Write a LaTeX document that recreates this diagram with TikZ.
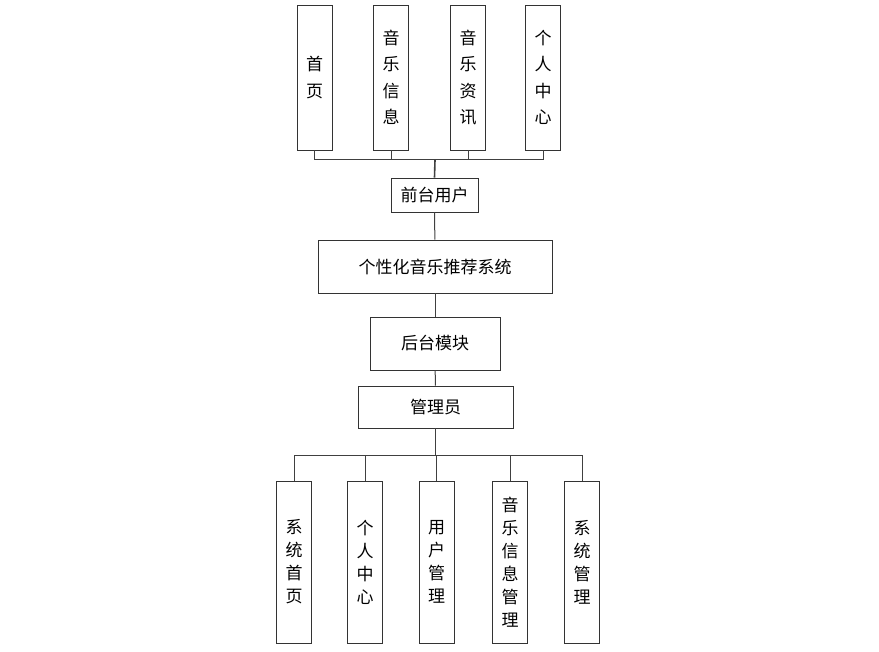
\documentclass[tikz,border=0pt]{standalone}
\usepackage{fontspec}
\newfontfamily\cjk{Noto Sans CJK SC}
\usetikzlibrary{positioning}
\tikzset{
  box/.style={draw=black!80, line width=0.9pt, align=center, inner sep=2pt, font=\cjk\fontsize{17}{24}\selectfont},
  tallbox/.style={box, minimum width=35pt, text width=18pt},
  topbox/.style={tallbox, minimum height=145pt, font=\cjk\fontsize{17}{26.5}\selectfont},
  botbox/.style={tallbox, minimum height=162pt, font=\cjk\fontsize{17}{23}\selectfont},
  wide/.style={box, minimum height=33pt},
  link/.style={draw=black!75, line width=1pt}
}
\begin{document}
\begin{tikzpicture}[x=1pt,y=-1pt]
  \useasboundingbox (0,0) rectangle (879,652);
  % ---- front-end modules (top) ----
  \node[topbox] (home) at (314.5,77.5) {首\\页};
  \node[topbox] (musicinfo) at (391,77.5) {音\\乐\\信\\息};
  \node[topbox] (news) at (468,77.5) {音\\乐\\资\\讯};
  \node[topbox] (center) at (543,77.5) {个\\人\\中\\心};

  % ---- main chain ----
  \node[wide, minimum width=87pt, minimum height=34pt] (front) at (434.5,195) {前台用户};
  \node[wide, minimum width=234pt, minimum height=53pt] (system) at (435,266.5) {个性化音乐推荐系统};
  \node[wide, minimum width=130pt, minimum height=53pt] (backend) at (435,343.5) {后台模块};
  \node[wide, minimum width=155pt, minimum height=42pt] (admin) at (435.5,407) {管理员};

  % ---- admin modules (bottom) ----
  \node[botbox] (syshome) at (294,562) {系\\统\\首\\页};
  \node[botbox] (mycenter) at (365,562) {个\\人\\中\\心};
  \node[botbox] (usermgr) at (436.5,562) {用\\户\\管\\理};
  \node[botbox] (musicmgr) at (510,562) {音\\乐\\信\\息\\管\\理};
  \node[botbox] (sysmgr) at (582,562) {系\\统\\管\\理};

  % buses
  \coordinate (topbus) at (435,160);
  \coordinate (botbus) at (435.5,456);

  % links
  \draw[link] (home.south) |- (topbus);
  \draw[link] (musicinfo.south) |- (topbus);
  \draw[link] (news.south) |- (topbus);
  \draw[link] (center.south) |- (topbus);
  \draw[link, line width=1.6pt] (topbus) -- (front.north);
  \draw[link] (front) -- (system);
  \draw[link] (system) -- (backend);
  \draw[link] (backend) -- (admin);
  \draw[link] (admin.south) -- (botbus);
  \draw[link] (botbus) -| (syshome.north);
  \draw[link] (botbus) -| (mycenter.north);
  \draw[link] (botbus) -| (usermgr.north);
  \draw[link] (botbus) -| (musicmgr.north);
  \draw[link] (botbus) -| (sysmgr.north);
\end{tikzpicture}
\end{document}
